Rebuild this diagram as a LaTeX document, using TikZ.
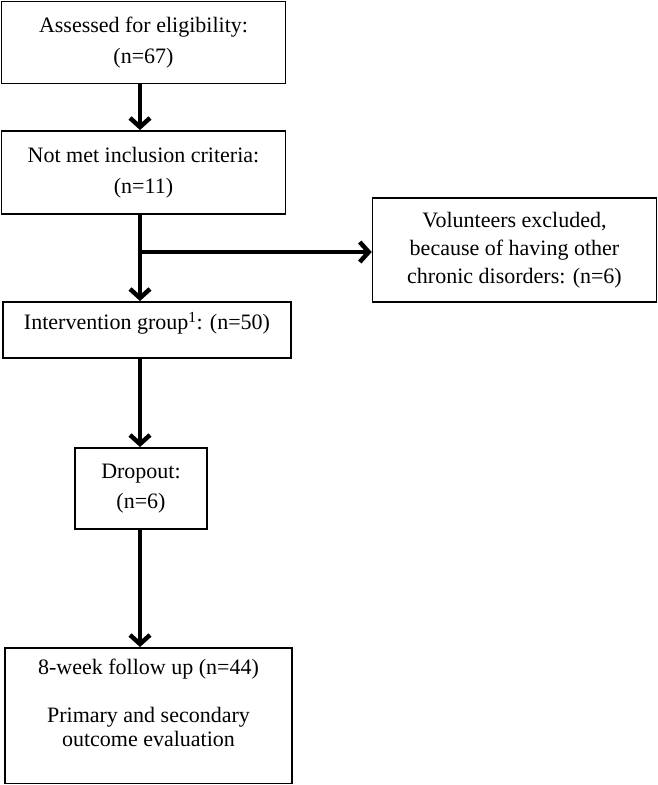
\documentclass[tikz,border=0pt]{standalone}
\usepackage{fontspec}
\setmainfont{Liberation Serif}
\usetikzlibrary{arrows.meta}
\begin{document}
\begin{tikzpicture}
[x=1pt,y=-1pt,
  boxdecorate/.style={draw,line width=1.5pt,align=center,inner sep=0pt,
    anchor=north,font=\fontsize{22}{31}\selectfont},
  arrowdecorate/.style={line width=4.5pt,
    -{Straight Barb[length=9pt,width=20pt]}}]
\useasboundingbox (0,0) rectangle (658,785);
%% boxes
\node (assess) at (143.5,0.75) [boxdecorate,minimum width=284pt,
  minimum height=82pt] {Assessed for eligibility:\\(n=67)};
\node (notmet) at (143.5,130) [boxdecorate,minimum width=284pt,
  minimum height=83pt] {Not met inclusion criteria:\\(n=11)};
\node (volunteer) at (514.5,197) [boxdecorate,minimum width=284pt,
  minimum height=104pt,font=\fontsize{22}{28}\selectfont]
  {Volunteers excluded,\\because of having other\\chronic disorders: (n=6)};
\node (interv) at (147,301) [boxdecorate,minimum width=288pt,
  inner ysep=12pt,text height=16pt,text depth=16pt]
  {Intervention group\textsuperscript{1}: (n=50)};
\node (dropout) at (141,447) [boxdecorate,minimum width=132pt,
  minimum height=81pt,font=\fontsize{22}{30}\selectfont] {Dropout:\\(n=6)};
\node (followup) at (148.5,647) [boxdecorate,minimum width=287pt,
  inner ysep=11pt,text depth=26pt,font=\fontsize{22}{24}\selectfont]
  {8-week follow up (n=44)\\[24pt]Primary and secondary\\outcome evaluation};
%% arrows
\coordinate (spine) at (140,0);
\coordinate (branch) at (140,252);
\foreach \startnode/\endnode in {assess/notmet, notmet/interv,
  interv/dropout, dropout/followup} {
  \draw[arrowdecorate] (\startnode.south -| spine) -- (\endnode.north -| spine);
}
\draw[arrowdecorate] (branch) -- (branch -| volunteer.west);
\end{tikzpicture}
\end{document}
